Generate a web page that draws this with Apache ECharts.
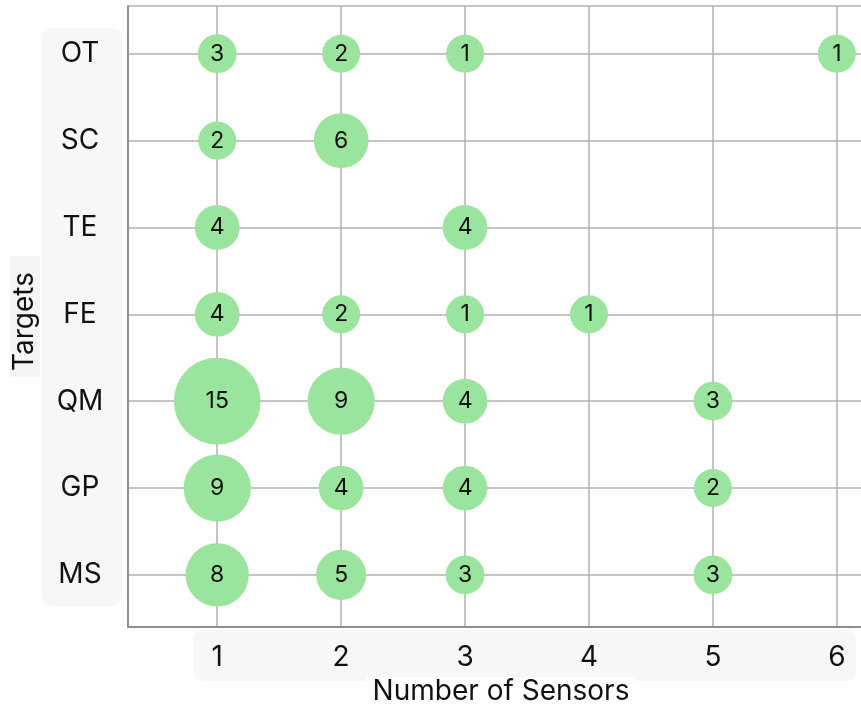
<!DOCTYPE html>
<html>
<head>
<meta charset="utf-8">
<script src="https://cdn.jsdelivr.net/npm/echarts@6/dist/echarts.min.js"></script>
<style>html,body{margin:0;padding:0;background:#fff}#c{width:861px;height:705px}</style>
</head>
<body>
<div id="c"></div>
<script>
const targets = ['MS', 'GP', 'QM', 'FE', 'TE', 'SC', 'OT'];
const sensors = [1, 2, 3, 4, 5, 6];
// counts per target, indexed by number of sensors 1..6 (0 = none)
const MS = [8, 5, 3, 0, 3, 0];
const GP = [9, 4, 4, 0, 2, 0];
const QM = [15, 9, 4, 0, 3, 0];
const FE = [4, 2, 1, 1, 0, 0];
const TE = [4, 0, 4, 0, 0, 0];
const SC = [2, 6, 0, 0, 0, 0];
const OT = [3, 2, 1, 0, 0, 1];
const counts = [MS, GP, QM, FE, TE, SC, OT];

const data = [];
counts.forEach((row, ti) => {
  row.forEach((v, si) => {
    if (v > 0) data.push([sensors[si], ti + 1, v]);
  });
});

const FONT = 'Inter';
const chart = echarts.init(document.getElementById('c'), null, {renderer: 'canvas'});
chart.setOption({
  backgroundColor: '#ffffff',
  animation: false,
  graphic: [
    {type: 'rect', z: -10, shape: {x: 42, y: 28, width: 80, height: 578, r: 9}, style: {fill: '#f7f7f7'}},
    {type: 'rect', z: -10, shape: {x: 193, y: 630, width: 663, height: 51, r: 9}, style: {fill: '#f7f7f7'}}
  ],
  grid: {left: 128, right: -13, top: 6, bottom: 78, containLabel: false, outerBoundsMode: 'none'},
  xAxis: {
    type: 'value', min: 0.28, max: 6.3, splitNumber: 6,
    name: 'Number of Sensors', nameLocation: 'middle', nameGap: 50,
    nameTextStyle: {fontFamily: FONT, fontSize: 28, color: '#111', backgroundColor: '#ffffff', padding: [1, 6]},
    axisLine: {show: true, lineStyle: {color: '#8f8f8f', width: 2}},
    axisTick: {show: false},
    splitLine: {show: true, lineStyle: {color: '#b0b0b0', width: 1.5}},
    axisLabel: {
      margin: 17, fontFamily: FONT, fontSize: 28, color: '#111',
      showMinLabel: false, showMaxLabel: false,
      formatter: v => (Math.abs(v - Math.round(v)) < 1e-6 ? String(Math.round(v)) : '')
    }
  },
  yAxis: {
    type: 'value', min: 0.4, max: 7.55, splitNumber: 7,
    name: 'Targets', nameLocation: 'middle', nameGap: 88, nameRotate: 90,
    nameTextStyle: {fontFamily: FONT, fontSize: 28, color: '#111', backgroundColor: '#f5f5f5', padding: [1, 16, 1, 6]},
    axisLine: {show: true, lineStyle: {color: '#8f8f8f', width: 2}},
    axisTick: {show: false},
    splitLine: {show: true, lineStyle: {color: '#b0b0b0', width: 1.5}},
    axisLabel: {
      margin: 48, align: 'center', fontFamily: FONT, fontSize: 28, color: '#111',
      showMinLabel: false, showMaxLabel: false,
      formatter: v => {
        const r = Math.round(v);
        return Math.abs(v - r) < 1e-6 && targets[r - 1] ? targets[r - 1] : '';
      }
    }
  },
  series: [{
    type: 'scatter',
    data: data,
    symbolSize: d => Math.max(38, 22.4 * Math.sqrt(d[2])),
    itemStyle: {color: '#9be49d', opacity: 1},
    label: {
      show: true, position: 'inside', fontFamily: FONT, fontSize: 23, color: '#111',
      formatter: p => String(p.value[2])
    }
  }]
});
</script>
</body>
</html>
